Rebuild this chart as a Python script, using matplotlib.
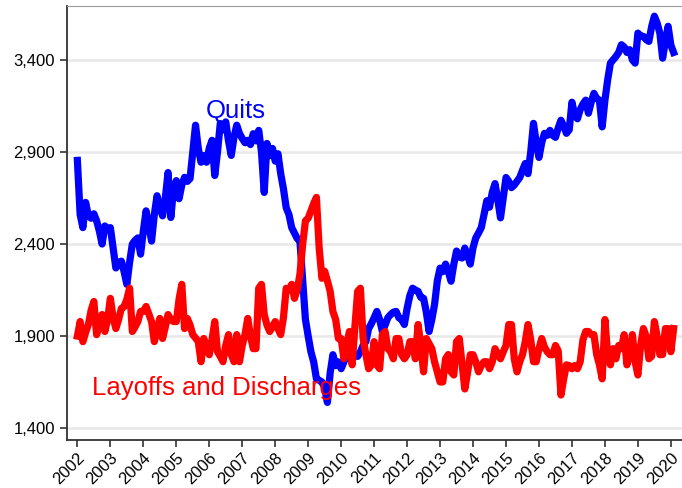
import numpy as np
import pandas as pd
import matplotlib
matplotlib.use("Agg")
import matplotlib.pyplot as plt
from matplotlib.ticker import FuncFormatter

# JOLTS monthly levels (thousands), Jan 2002 - Feb 2020
quits = [
    2854, 2560, 2489, 2626, 2553, 2540, 2564, 2526, 2470, 2400, 2498, 2480,  # 2002
    2489, 2380, 2270, 2300, 2307, 2250, 2181, 2300, 2400, 2420, 2433, 2345,  # 2003
    2470, 2580, 2500, 2416, 2560, 2662, 2600, 2553, 2650, 2788, 2544, 2700,  # 2004
    2744, 2646, 2720, 2762, 2740, 2755, 2900, 3045, 2920, 2844, 2880, 2844,  # 2005
    2920, 2963, 2772, 2900, 3054, 3020, 3063, 2960, 2881, 2980, 3045, 3000,  # 2006
    2973, 2950, 2963, 2940, 2999, 2960, 3017, 2900, 2680, 2946, 2880, 2919,  # 2007
    2850, 2890, 2782, 2700, 2597, 2560, 2489, 2460, 2430, 2416, 2200, 1990,  # 2008
    1900, 1815, 1760, 1668, 1660, 1651, 1620, 1540, 1700, 1799, 1740, 1760,  # 2009
    1723, 1760, 1799, 1780, 1777, 1800, 1790, 1815, 1850, 1870, 1941, 1968,  # 2010
    2000, 2034, 1990, 1925, 1960, 2000, 2017, 2030, 2034, 2000, 1990, 1963,  # 2011
    2050, 2120, 2160, 2150, 2143, 2110, 2105, 2030, 1925, 1990, 2072, 2200,  # 2012
    2269, 2250, 2291, 2250, 2198, 2290, 2362, 2330, 2324, 2378, 2340, 2291,  # 2013
    2380, 2433, 2460, 2489, 2560, 2635, 2600, 2680, 2728, 2640, 2542, 2650,  # 2014
    2761, 2740, 2706, 2720, 2740, 2761, 2800, 2837, 2782, 2900, 3055, 2950,  # 2015
    2870, 2950, 3001, 2990, 3017, 2990, 2979, 3030, 3072, 3040, 3001, 3020,  # 2016
    3170, 3100, 3080, 3130, 3160, 3181, 3110, 3170, 3218, 3190, 3181, 3036,  # 2017
    3180, 3291, 3382, 3400, 3418, 3440, 3482, 3470, 3440, 3455, 3400, 3382,  # 2018
    3545, 3530, 3527, 3510, 3500, 3580, 3637, 3600, 3545, 3409, 3500, 3582,  # 2019
    3480, 3440,                                                              # 2020
]

layoffs = [
    1900, 1979, 1870, 1920, 1963, 2040, 2088, 1908, 1960, 2017, 1925, 1990,  # 2002
    2105, 2000, 1941, 1990, 2050, 2060, 2100, 2160, 1925, 1950, 1979, 2034,  # 2003
    2034, 2061, 2020, 1979, 1870, 1930, 1996, 1887, 1950, 2017, 1990, 1979,  # 2004
    1979, 2100, 2181, 1941, 1996, 1960, 1908, 1890, 1870, 1761, 1887, 1840,  # 2005
    1799, 1880, 1979, 1815, 1790, 1761, 1850, 1908, 1800, 1761, 1908, 1761,  # 2006
    1850, 1908, 1996, 1900, 1832, 1832, 2160, 2181, 2017, 1960, 1925, 1950,  # 2007
    1979, 1940, 1908, 2000, 2160, 2150, 2181, 2105, 2150, 2236, 2400, 2526,  # 2008
    2540, 2580, 2620, 2653, 2378, 2214, 2252, 2200, 2143, 2034, 1990, 1887,  # 2009
    1887, 1777, 1850, 1925, 1744, 1950, 2143, 2160, 1887, 1800, 1723, 1744,  # 2010
    1870, 1744, 1723, 1908, 1925, 1832, 1815, 1777, 1887, 1887, 1800, 1777,  # 2011
    1799, 1870, 1870, 1777, 1963, 1850, 1706, 1887, 1860, 1832, 1760, 1706,  # 2012
    1651, 1651, 1777, 1800, 1706, 1689, 1870, 1887, 1750, 1613, 1700, 1799,  # 2013
    1799, 1760, 1706, 1740, 1761, 1761, 1723, 1760, 1832, 1800, 1777, 1815,  # 2014
    1849, 1963, 1963, 1777, 1706, 1761, 1799, 1870, 1963, 1880, 1761, 1761,  # 2015
    1832, 1887, 1840, 1815, 1799, 1799, 1849, 1820, 1580, 1668, 1744, 1740,  # 2016
    1723, 1740, 1723, 1761, 1880, 1925, 1925, 1908, 1908, 1800, 1744, 1668,  # 2017
    1990, 1799, 1744, 1832, 1777, 1849, 1832, 1908, 1744, 1799, 1908, 1760,  # 2018
    1689, 1850, 1941, 1900, 1777, 1790, 1979, 1900, 1799, 1800, 1941, 1941,  # 2019
    1815, 1941,                                                              # 2020
]

years = list(range(2002, 2021))
yticks = [1400, 1900, 2400, 2900, 3400]

# month positions in decimal years
months = pd.date_range("2002-01-01", periods=len(quits), freq="MS")
t = months.year + (months.month - 1) / 12.0

plt.rcParams['font.family'] = ['Liberation Sans', 'DejaVu Sans']

fig = plt.figure(figsize=(6.82, 4.88), dpi=100)
ax = fig.add_axes([0.098, 0.098, 0.905, 0.89])

ax.plot(t, quits, color='#0000ff', lw=5.2, solid_joinstyle='round', zorder=3)
ax.plot(t, layoffs, color='#ff0000', lw=5.2, solid_joinstyle='round', zorder=3)

ax.text(2005.89, 3083, "Quits", color='#0000ff', fontsize=18.5, ha='left', va='baseline')
ax.text(2002.44, 1580, "Layoffs and Discharges", color='#ff0000', fontsize=18.5,
        ha='left', va='baseline')

ax.set_xlim(2001.68, 2020.4)
ax.set_ylim(1335, 3693)

ax.set_yticks(yticks)
ax.yaxis.set_major_formatter(FuncFormatter(lambda v, p: f"{int(v):,}"))
ax.set_xticks(years)
ax.set_xticklabels([str(y) for y in years], rotation=45, ha='right', rotation_mode='anchor')
ax.tick_params(axis='both', labelsize=12, length=5, width=1.2, color='#333333')
ax.tick_params(axis='x', pad=2)

ax.grid(axis='y', color='#e8e8e8', lw=1.8, zorder=0)
ax.set_axisbelow(True)

ax.spines['right'].set_visible(False)
ax.spines['top'].set_color('#9a9a9a')
for s in ['left', 'bottom']:
    ax.spines[s].set_color('#333333')
    ax.spines[s].set_linewidth(1.3)

fig.savefig("out.png", dpi=100)
